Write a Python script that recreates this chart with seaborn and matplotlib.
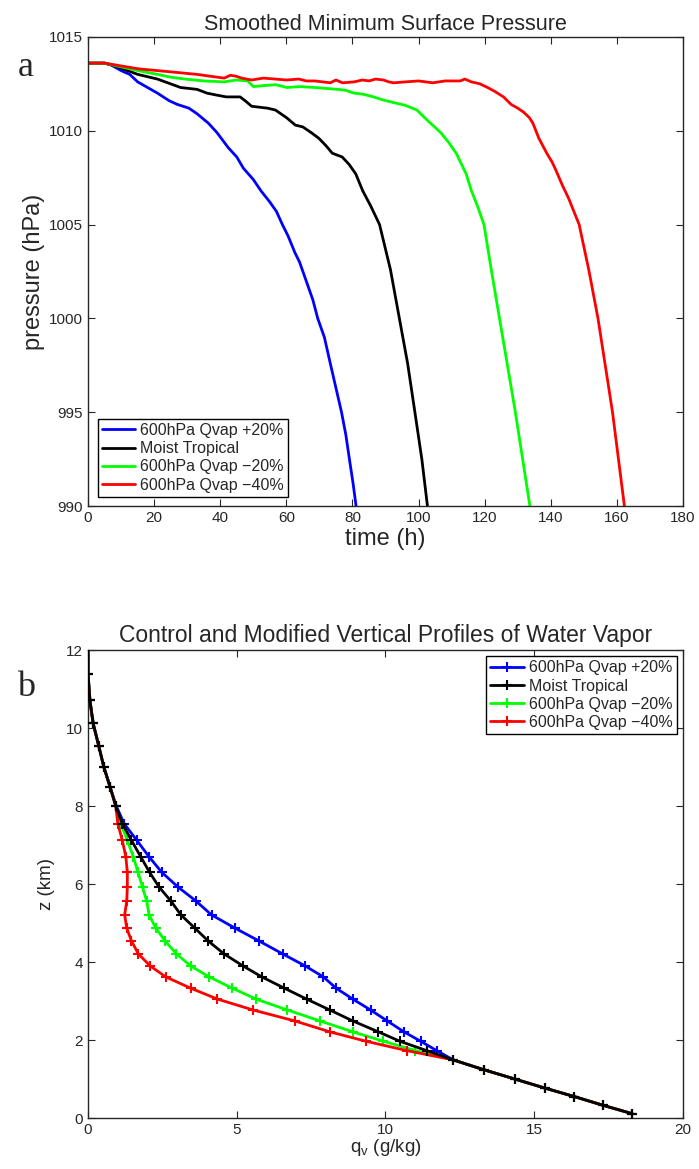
import numpy as np
import pandas as pd
import seaborn as sns
import matplotlib.pyplot as plt

labels = ['600hPa Qvap +20%', 'Moist Tropical', '600hPa Qvap \u221220%', '600hPa Qvap \u221240%']
colors = ['#0000ff', '#000000', '#00ff00', '#ff0000']

# ---- panel a: smoothed minimum surface pressure (time in h, pressure in hPa)
t_p20 = [0, 5, 7, 10, 12.6, 15, 18, 21, 24.5, 27, 30.5, 33, 36.4, 39, 42.4, 45, 47, 50, 52.3, 55, 57,
         58.8, 60.5, 62.6, 64, 66, 68, 69.5, 71.5, 73.3, 75, 76.7, 78, 79, 80.2, 81.1, 81.5]
p_p20 = [1013.6, 1013.6, 1013.5, 1013.2, 1013.0, 1012.6, 1012.3, 1012.0, 1011.6, 1011.4, 1011.2, 1010.9,
         1010.4, 1009.9, 1009.1, 1008.6, 1008.0, 1007.4, 1006.8, 1006.2, 1005.7, 1005.0, 1004.4, 1003.5,
         1003.0, 1002.0, 1001.0, 1000.0, 999.0, 997.6, 996.3, 995.0, 993.8, 992.6, 991.2, 990.0, 989.0]

t_ctl = [0, 5, 9, 15, 21, 28, 33, 36, 38.8, 41.8, 46, 47.5, 49.5, 54.3, 56.7, 60, 62.7, 65, 67.5, 69.8,
         72, 73.9, 76.9, 79, 81, 83.1, 85.5, 88.2, 91.5, 94.2, 96.7, 98.9, 101, 102.7, 103]
p_ctl = [1013.6, 1013.6, 1013.4, 1013.0, 1012.75, 1012.3, 1012.2, 1012.0, 1011.9, 1011.8, 1011.8, 1011.6,
         1011.3, 1011.2, 1011.1, 1010.7, 1010.3, 1010.2, 1009.9, 1009.6, 1009.2, 1008.8, 1008.6, 1008.2,
         1007.7, 1006.8, 1006.0, 1005.0, 1002.6, 1000.0, 997.6, 995.0, 992.5, 990.0, 989.0]

t_m20 = [0, 5, 10, 15, 21, 25, 29.3, 35, 41.2, 44.8, 48.3, 50, 53, 56.7, 60.2, 64, 68.6, 72, 75.7, 78,
         80.5, 83, 86.4, 89, 92.4, 96, 99.5, 103, 106.7, 109, 111.4, 114.4, 116, 117.8, 119.8, 122,
         124.5, 127, 129.3, 131.5, 133.7, 134]
p_m20 = [1013.6, 1013.6, 1013.4, 1013.2, 1013.0, 1012.85, 1012.75, 1012.65, 1012.6, 1012.7, 1012.65,
         1012.35, 1012.4, 1012.45, 1012.3, 1012.35, 1012.3, 1012.25, 1012.2, 1012.15, 1012.0, 1011.95,
         1011.8, 1011.65, 1011.5, 1011.35, 1011.1, 1010.5, 1009.9, 1009.4, 1008.8, 1007.7, 1006.8,
         1006.0, 1005.0, 1002.6, 1000.0, 997.4, 995.0, 992.5, 990.0, 989.0]

t_m40 = [0, 5, 10, 15, 21, 27, 32.9, 37, 41.2, 43, 44.8, 46.5, 49.5, 53, 56.7, 60, 63.8, 66, 68.6, 71,
         73.3, 75, 77, 80.5, 83, 85, 87, 89.4, 91, 92.4, 96, 100, 104.3, 108, 110, 112.6, 114, 116, 118.5,
         120.9, 123, 125.7, 128, 130, 131.7, 133.5, 134.6, 136.4, 138.8, 140.5, 141.8, 143.5, 145.4,
         148.6, 151.5, 154.3, 156.5, 158.7, 160.5, 162.3, 162.6]
p_m40 = [1013.6, 1013.6, 1013.45, 1013.3, 1013.2, 1013.1, 1013.0, 1012.9, 1012.8, 1012.95, 1012.9,
         1012.8, 1012.7, 1012.8, 1012.75, 1012.7, 1012.75, 1012.65, 1012.65, 1012.6, 1012.55, 1012.7,
         1012.55, 1012.6, 1012.7, 1012.65, 1012.75, 1012.7, 1012.6, 1012.55, 1012.6, 1012.65, 1012.55,
         1012.65, 1012.65, 1012.65, 1012.75, 1012.6, 1012.5, 1012.3, 1012.1, 1011.8, 1011.4, 1011.2,
         1011.0, 1010.7, 1010.4, 1009.6, 1008.8, 1008.3, 1007.8, 1007.1, 1006.4, 1005.0, 1002.6, 1000.0,
         997.5, 995.0, 992.5, 990.0, 989.0]

# ---- panel b: water vapor profiles (z in km, q_v in g/kg)
z_levels = [0.11, 0.33, 0.55, 0.77, 1.0, 1.24, 1.49, 1.73, 1.97, 2.21, 2.49, 2.77, 3.05, 3.33, 3.62,
            3.9, 4.21, 4.54, 4.87, 5.21, 5.57, 5.92, 6.3, 6.7, 7.12, 7.55, 8.0, 8.49, 9.0, 9.54, 10.12,
            10.72, 11.38, 12.1]
q_p20 = [18.3, 17.3, 16.35, 15.35, 14.35, 13.3, 12.28, 11.72, 11.18, 10.62, 10.06, 9.5, 8.9, 8.34, 7.91,
         7.3, 6.54, 5.75, 4.94, 4.15, 3.62, 3.03, 2.48, 2.05, 1.64, 1.21, 0.95, 0.74, 0.53, 0.36, 0.17,
         0.06, 0.0, 0.0]
q_ctl = [18.3, 17.3, 16.35, 15.35, 14.35, 13.3, 12.28, 11.38, 10.48, 9.76, 8.9, 8.13, 7.35, 6.6, 5.84,
         5.21, 4.57, 4.04, 3.59, 3.12, 2.78, 2.39, 2.07, 1.77, 1.46, 1.15, 0.93, 0.74, 0.53, 0.36, 0.17,
         0.06, 0.0, 0.0]
q_m20 = [18.3, 17.3, 16.35, 15.35, 14.35, 13.3, 12.28, 11.0, 9.93, 8.9, 7.8, 6.7, 5.65, 4.85, 4.07,
         3.45, 2.97, 2.59, 2.28, 2.05, 1.97, 1.83, 1.68, 1.52, 1.32, 1.1, 0.93, 0.74, 0.53, 0.36, 0.17,
         0.06, 0.0, 0.0]
q_m40 = [18.3, 17.3, 16.35, 15.35, 14.35, 13.3, 12.28, 10.71, 9.34, 8.13, 6.95, 5.55, 4.35, 3.45, 2.61,
         2.09, 1.69, 1.46, 1.3, 1.23, 1.3, 1.32, 1.32, 1.27, 1.15, 1.0, 0.93, 0.74, 0.53, 0.36, 0.17,
         0.06, 0.0, 0.0]

df_a = pd.concat([
    pd.DataFrame({'time': t, 'pressure': p, 'run': lab})
    for t, p, lab in zip([t_p20, t_ctl, t_m20, t_m40], [p_p20, p_ctl, p_m20, p_m40], labels)
])
df_b = pd.concat([
    pd.DataFrame({'q': q, 'z': z_levels, 'run': lab})
    for q, lab in zip([q_p20, q_ctl, q_m20, q_m40], labels)
])

sns.set_style('ticks')
plt.rcParams['font.family'] = ['Liberation Sans', 'DejaVu Sans']
plt.rcParams['xtick.direction'] = 'in'
plt.rcParams['ytick.direction'] = 'in'
plt.rcParams['xtick.top'] = True
plt.rcParams['ytick.right'] = True
plt.rcParams['axes.linewidth'] = 1.0

fig = plt.figure(figsize=(6.99, 11.69), dpi=100)
ax1 = fig.add_axes([0.126, 0.567, 0.851, 0.4015])
ax2 = fig.add_axes([0.126, 0.0436, 0.851, 0.4003])

pal = dict(zip(labels, colors))


def style_legend(ax, loc, pad):
    leg = ax.legend(loc=loc, fontsize=11.5, frameon=True, fancybox=False, handlelength=2.1,
                    borderaxespad=pad, labelspacing=0.2, borderpad=0.25, handletextpad=0.3)
    leg.get_frame().set_edgecolor('black')
    leg.get_frame().set_linewidth(1.0)
    leg.get_frame().set_alpha(1)
    for h in leg.legend_handles:
        h.set_markeredgecolor(h.get_color())
        h.set_linewidth(2)
    return leg


sns.lineplot(data=df_a, x='time', y='pressure', hue='run', hue_order=labels, palette=pal,
             estimator=None, sort=False, lw=2, ax=ax1)
ax1.set_xlim(0, 180)
ax1.set_ylim(990, 1015)
ax1.set_xticks(np.arange(0, 181, 20))
ax1.set_yticks(np.arange(990, 1016, 5))
ax1.set_title('Smoothed Minimum Surface Pressure', fontsize=15.5, pad=5)
ax1.set_xlabel('time (h)', fontsize=17, labelpad=2)
ax1.set_ylabel('pressure (hPa)', fontsize=17, labelpad=3)
ax1.tick_params(labelsize=11, length=5, width=0.8)
style_legend(ax1, 'lower left', 0.6)

sns.lineplot(data=df_b, x='q', y='z', hue='run', hue_order=labels, palette=pal,
             estimator=None, sort=False, lw=2, marker='+', markersize=7, mew=1.5, ax=ax2)
for ln in ax2.lines:
    ln.set_markeredgecolor(ln.get_color())
    if ln.get_color() in ('#000000', 'k', (0.0, 0.0, 0.0, 1.0)):
        ln.set_zorder(3)
ax2.lines[1].set_zorder(3)
ax2.set_xlim(0, 20)
ax2.set_ylim(0, 12)
ax2.set_xticks(np.arange(0, 21, 5))
ax2.set_yticks(np.arange(0, 13, 2))
ax2.set_title('Control and Modified Vertical Profiles of Water Vapor', fontsize=16.5, pad=6)
ax2.set_xlabel(r'q$_\mathregular{v}$ (g/kg)', fontsize=13.5, labelpad=0)
ax2.set_ylabel('z (km)', fontsize=13.5, labelpad=8)
ax2.tick_params(labelsize=11, length=5, width=0.8)
style_legend(ax2, 'upper right', 0.4)

fig.text(0.025, 0.935, 'a', fontsize=26, family=['Liberation Serif', 'DejaVu Serif'])
fig.text(0.025, 0.405, 'b', fontsize=26, family=['Liberation Serif', 'DejaVu Serif'])

plt.savefig('out.png', dpi=100)
plt.close()
